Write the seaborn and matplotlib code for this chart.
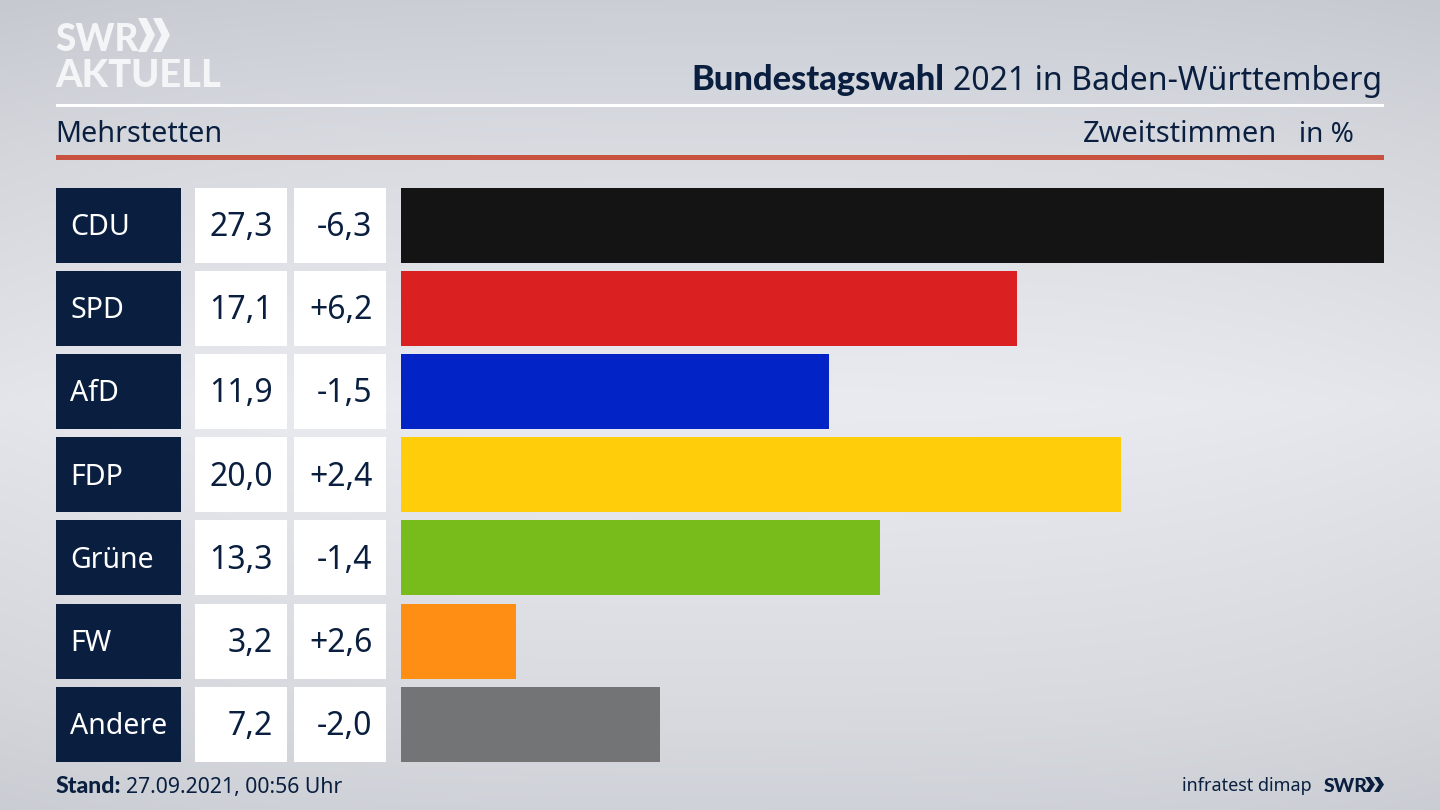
"""Zweitstimmen bars for Mehrstetten, SWR election graphic style."""

import numpy as np
import seaborn as sns
from matplotlib import pyplot as plt
from matplotlib.colors import to_rgb
from matplotlib.patches import Polygon, Rectangle

parties = ["CDU", "SPD", "AfD", "FDP", "Grüne", "FW", "Andere"]
shares = [27.3, 17.1, 11.9, 20.0, 13.3, 3.2, 7.2]
share_labels = ["27,3", "17,1", "11,9", "20,0", "13,3", "3,2", "7,2"]
diff_labels = ["-6,3", "+6,2", "-1,5", "+2,4", "-1,4", "+2,6", "-2,0"]
bar_colors = ["#141414", "#da2020", "#0224c6", "#ffcd0a", "#78bc1b", "#fe8f14", "#737476"]

NAVY = "#0a1f3f"
RED_LINE = "#c9513f"
LOGO = "#f4f5f7"
W, H = 1440, 810
ROW_TOP = 183.4
ROW_PITCH = 83.23
CELL_H = 75

sns.set_theme(style="white")
plt.rcParams["font.family"] = ["Noto Sans", "DejaVu Sans"]

fig = plt.figure(figsize=(W / 100, H / 100), dpi=100)

# backdrop: vertical grey gradient, a bit darker towards the sides
bg_ax = fig.add_axes([0, 0, 1, 1], zorder=0)
stops = [0.0, 0.2, 0.5, 0.86, 1.0]
stop_colors = np.array([to_rgb(c) for c in ["#cbcfd5", "#dadce2", "#eaebf0", "#d9dbe0", "#cfd2d8"]])
yy = np.linspace(0, 1, 300)
vert = np.stack([np.interp(yy, stops, stop_colors[:, c]) for c in range(3)], axis=1)
side = 1 - 0.025 * np.abs(np.linspace(-1, 1, 400)) ** 3
bg_ax.imshow(vert[:, None, :] * side[None, :, None], aspect="auto", extent=[0, W, H, 0])
bg_ax.axis("off")

# bars, scaled so the largest share fills the full width
ax = fig.add_axes(
    [401 / W, 1 - (ROW_TOP + 7 * ROW_PITCH) / H, 983 / W, 7 * ROW_PITCH / H], zorder=1
)
sns.barplot(
    x=shares, y=parties, hue=parties, palette=bar_colors, order=parties, hue_order=parties,
    width=CELL_H / ROW_PITCH, saturation=1, legend=False, linewidth=0, ax=ax,
)
ax.set_xlim(0, max(shares))
ax.set_ylim(6.5, -0.5)
ax.axis("off")

# overlay in pixel coordinates for the table cells and texts
ov = fig.add_axes([0, 0, 1, 1], zorder=2)
ov.set_xlim(0, W)
ov.set_ylim(H, 0)
ov.axis("off")
ov.patch.set_alpha(0)


def put(x, y, text, size, color=NAVY, ha="left", weight="normal", family=None):
    """Place text at a baseline position, size given in pixels."""
    return ov.text(
        x, y, text, fontsize=size * 0.72, color=color, ha=ha, va="baseline",
        fontweight=weight, family=family or ["Noto Sans", "DejaVu Sans"],
    )


def chevrons(x, top, bottom, width, step, color):
    """Draw the double arrow of the SWR logo."""
    mid = (top + bottom) / 2
    thick = width * 0.5
    for i in range(2):
        x0 = x + i * step
        ov.add_patch(Polygon(
            [(x0, top), (x0 + thick, top), (x0 + width, mid), (x0 + thick, bottom), (x0, bottom), (x0 + width - thick, mid)],
            closed=True, facecolor=color, edgecolor="none",
        ))


for i, party in enumerate(parties):
    top = ROW_TOP + ROW_PITCH * i + (ROW_PITCH - CELL_H) / 2
    base = top + 48.5
    ov.add_patch(Rectangle((56, top), 125, CELL_H, facecolor=NAVY, edgecolor="none"))
    ov.add_patch(Rectangle((195, top), 92, CELL_H, facecolor="white", edgecolor="none"))
    ov.add_patch(Rectangle((294, top), 92, CELL_H, facecolor="white", edgecolor="none"))
    put(70, base - 1, party, 28.5, color="white")
    put(273, base, share_labels[i], 32, ha="right")
    put(372.5, base, diff_labels[i], 32, ha="right")

# header
ov.add_patch(Rectangle((56, 103.5), 1328, 3, facecolor="white", edgecolor="none"))
ov.add_patch(Rectangle((56, 155), 1328, 5, facecolor=RED_LINE, edgecolor="none"))
put(55, 51, "SWR", 37, color=LOGO, weight="black", family=["Lato"])
chevrons(138, 18, 52, 17, 15, LOGO)
put(55, 87, "AKTUELL", 38, color=LOGO, weight="black", family=["Lato"])
put(944, 90, "Bundestagswahl", 34.4, ha="right", weight="black", family=["Lato"])
put(953, 90, "2021 in Baden-Württemberg", 32)
put(55, 142, "Mehrstetten", 28.7)
put(1277, 142, "Zweitstimmen", 29, ha="right")
put(1354, 142, "in %", 28, ha="right")

# footer
put(56, 793, "Stand:", 23, weight="black", family=["Lato"])
put(126, 793, "27.09.2021, 00:56 Uhr", 21.2)
put(1312, 791, "infratest dimap", 18, ha="right")
put(1324, 792, "SWR", 19.5, weight="black", family=["Lato"])
chevrons(1365, 777, 792, 10, 9, NAVY)

fig.savefig("out.png", dpi=100)
